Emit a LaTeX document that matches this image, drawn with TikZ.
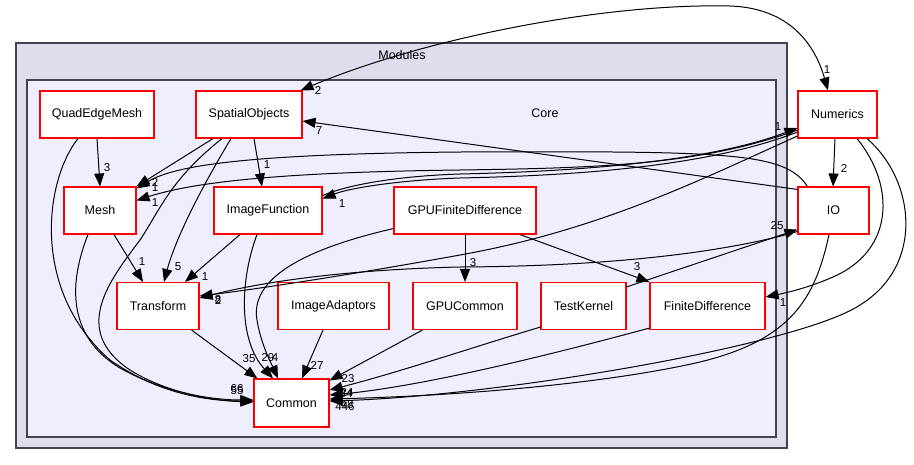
\documentclass[tikz,border=0pt]{standalone}
\usepackage{fontspec}
\setmainfont{Liberation Sans}
\usetikzlibrary{arrows.meta,calc}
\definecolor{modfill}{RGB}{221,221,238}
\definecolor{corefill}{RGB}{238,238,255}
\definecolor{clusterline}{RGB}{68,68,80}
\tikzset{
  box/.style={draw=red,fill=white,line width=1.1pt,minimum height=47pt,inner sep=0pt,font=\fontsize{12.5}{14}\selectfont},
  cluster/.style={draw=clusterline,line width=1.3pt},
  lbl/.style={inner sep=0pt,font=\fontsize{11.5}{13}\selectfont},
  dep/.style={draw=black,line width=1pt,-{Triangle[length=13pt,width=10pt]}},
  bidep/.style={draw=black,line width=1pt,{Triangle[length=13pt,width=10pt]}-{Triangle[length=13pt,width=10pt]}},
}
\begin{document}
\begin{tikzpicture}[x=1pt,y=-1pt]
\useasboundingbox (0,0) rectangle (914,464);
% clusters
\path[cluster,fill=modfill] (16,43) rectangle (787,448);
\node[font=\fontsize{12.5}{14}\selectfont] (modlbl) at (402,55) {Modules};
\path[cluster,fill=corefill] (27,80) rectangle (776,437);
\node[font=\fontsize{12.5}{14}\selectfont] (corelbl) at (545,113) {Core};
% nodes
\node[box,minimum width=114pt] (qem) at (97,114.5) {QuadEdgeMesh};
\node[box,minimum width=106pt] (so) at (249,114.5) {SpatialObjects};
\node[box,minimum width=72pt] (mesh) at (100,210.5) {Mesh};
\node[box,minimum width=108pt] (if) at (268,210.5) {ImageFunction};
\node[box,minimum width=142pt] (gpufd) at (465,210.5) {GPUFiniteDifference};
\node[box,minimum width=79pt] (num) at (837.5,114.5) {Numerics};
\node[box,minimum width=71pt] (io) at (833.5,210.5) {IO};
\node[box,minimum width=82pt] (tr) at (158,306) {Transform};
\node[box,minimum width=111pt] (ia) at (333.5,306) {ImageAdaptors};
\node[box,minimum width=104pt] (gpuc) at (465,306) {GPUCommon};
\node[box,minimum width=85pt] (tk) at (583.5,306) {TestKernel};
\node[box,minimum width=115pt] (fd) at (707.5,306) {FiniteDifference};
\node[box,minimum width=75pt,minimum height=48pt] (common) at (291.5,403) {Common};
% edges
\draw[dep] (qem.south) -- (mesh.north);
\draw[dep] ($(qem.south)+(-19,0)$) .. controls (45,180) and (30,290) .. (110,360) .. controls (160,395) and (210,401) .. ($(common.west)+(0,-2)$);
\draw[dep] ($(so.south)+(-36,0)$) -- (mesh.north east);
\draw[dep] ($(so.south)+(5,0)$) -- ($(if.north)+(-6,0)$);
\draw[dep] ($(so.south)+(-18,0)$) .. controls (200,190) and (175,240) .. ($(tr.north)+(6,0)$);
\draw[dep] ($(so.south)+(-27,0)$) .. controls (170,180) and (160,210) .. (140,240) .. controls (110,280) and (70,330) .. (130,370) .. controls (170,395) and (220,401) .. ($(common.west)+(0,-1)$);
\draw[dep] ($(mesh.south)+(14,0)$) -- ($(tr.north)+(-15,0)$);
\draw[dep] ($(mesh.south)+(-12,0)$) .. controls (70,280) and (65,335) .. (120,368) .. controls (170,396) and (220,400) .. ($(common.west)+(0,-3)$);
\draw[dep] ($(if.south)+(-28,0)$) -- ($(tr.north)+(27,0)$);
\draw[dep] ($(if.south)+(-11,0)$) .. controls (240,280) and (238,340) .. ($(common.north)+(-18.5,0)$);
\draw[dep] ($(gpufd.south west)+(0,-6)$) .. controls (300,250) and (250,280) .. (257,320) .. controls (261,345) and (272,365) .. ($(common.north)+(-13.5,0)$);
\draw[dep] ($(tr.south east)+(-8,0)$) -- ($(common.north west)+(4,0)$);
\draw[dep] ($(ia.south)+(-10.5,0)$) -- ($(common.north)+(10.5,0)$);
\draw[dep] ($(gpuc.south west)+(10,0)$) -- ($(common.north east)+(0,2)$);
\draw[dep] ($(tk.south west)+(0,-3)$) .. controls (480,345) and (400,372) .. ($(common.east)+(0,-13)$);
\draw[dep] ($(fd.south west)+(0,-2)$) .. controls (550,355) and (420,387) .. ($(common.east)+(0,-8)$);
\draw[dep] ($(io.south)+(-4.5,0)$) .. controls (815,300) and (790,340) .. (700,362) .. controls (600,385) and (450,396) .. ($(common.east)+(0,-4)$);
\draw[dep] ($(num.south)+(29.5,0)$) .. controls (915,180) and (925,265) .. (860,305) .. controls (800,345) and (500,396) .. ($(common.east)+(0,-2)$);
\draw[dep] ($(num.south)+(19.5,0)$) .. controls (895,185) and (895,250) .. (833,277) .. controls (810,287) and (790,292) .. ($(fd.east)+(0,-9)$);
\draw[dep] ($(num.south)+(-2.5,0)$) -- ($(io.north)+(-0.5,0)$);
\draw[bidep] ($(so.north east)+(-2,0)$) .. controls (420,40) and (600,3) .. (730,6) .. controls (790,8) and (815,45) .. ($(num.north)+(-9.5,0)$);
\draw[dep] ($(io.north west)+(0,3)$) -- ($(so.east)+(0,6.5)$);
\draw[dep] ($(io.north west)+(10,0)$) .. controls (785,152) and (730,151) .. (460,152) .. controls (250,154) and (175,165) .. ($(mesh.north east)+(0,2)$);
\draw[dep] ($(num.west)+(0,15.5)$) .. controls (700,165) and (600,168) .. (460,170) .. controls (300,172) and (200,180) .. ($(mesh.east)+(0,-10)$);
\draw[dep] ($(num.west)+(0,17.5)$) .. controls (700,170) and (550,176) .. (460,178) .. controls (400,180) and (350,188) .. ($(if.east)+(0,-12)$);
\draw[dep] ($(if.east)+(0,-15)$) .. controls (350,184) and (400,176) .. (460,174) .. controls (550,172) and (700,165) .. ($(num.west)+(0,13.5)$);
\draw[dep] ($(num.west)+(0,21.5)$) .. controls (700,180) and (600,230) .. (460,255) .. controls (350,275) and (250,290) .. ($(tr.east)+(0,-10)$);
\draw[dep] ($(io.south west)+(0,-3)$) .. controls (750,245) and (650,266) .. (460,267) .. controls (330,270) and (250,285) .. ($(tr.east)+(0,-8)$);
\draw[dep] ($(tk.north east)+(0,5)$) -- ($(io.south west)+(0,-5)$);
\draw[dep] (gpufd.south) -- (gpuc.north);
\draw[dep] ($(gpufd.south)+(55,0)$) -- (fd.north west);
% labels
\node[lbl] (l1) at (107,168) {3};
\node[lbl] (l2) at (155,182) {2};
\node[lbl] (l3) at (155,188) {1};
\node[lbl] (l4) at (155,203) {1};
\node[lbl] (l5) at (267,165) {1};
\node[lbl] (l6) at (342,204) {1};
\node[lbl] (l7) at (319,131) {7};
\node[lbl] (l8) at (318,90) {2};
\node[lbl] (l9) at (827,70) {1};
\node[lbl] (l10) at (778,127) {1};
\node[lbl] (l11) at (844,168) {2};
\node[lbl] (l12) at (777,226) {25};
\node[lbl] (l13) at (142,262) {1};
\node[lbl] (l14) at (178,267) {5};
\node[lbl] (l15) at (205,277) {1};
\node[lbl] (l16) at (218,300) {8};
\node[lbl] (l17) at (218,300) {2};
\node[lbl] (l18) at (249,359) {35};
\node[lbl] (l19) at (268,358) {29};
\node[lbl] (l20) at (275,358) {4};
\node[lbl] (l21) at (317,365) {27};
\node[lbl] (l22) at (348,379) {23};
\node[lbl] (l23) at (347,392) {24};
\node[lbl] (l24) at (346,394) {34};
\node[lbl] (l25) at (345,407) {446};
\node[lbl] (l26) at (347,405) {48};
\node[lbl] (l27) at (237,389) {66};
\node[lbl] (l28) at (237,391) {55};
\node[lbl] (l29) at (783,303) {1};
\node[lbl] (l30) at (473,263) {3};
\node[lbl] (l31) at (637,267) {3};
\end{tikzpicture}
\end{document}
